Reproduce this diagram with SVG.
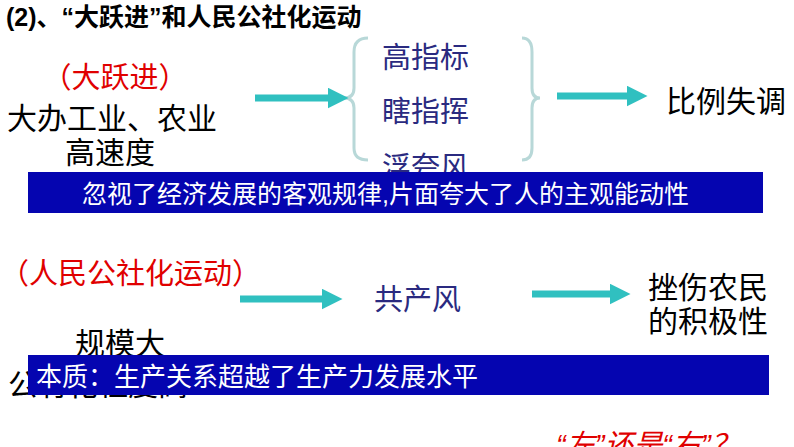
<svg xmlns="http://www.w3.org/2000/svg" width="794" height="447" viewBox="0 0 794 447">
<style>
text{font-family:"Liberation Sans","Noto Sans CJK SC",sans-serif}
.blk{fill:#000;font-size:30px}
.red{fill:#e00000;font-size:29px}
.nv{fill:#2a2a80;font-size:29px}
.wh{fill:#fff;font-size:25px}
.bar{fill:#0505b0}
.br{fill:none;stroke:#b8d8d8;stroke-width:3}
</style>
<defs>
<marker id="ah" markerWidth="3" markerHeight="3" refX="0.5" refY="1.5" orient="auto" markerUnits="strokeWidth" viewBox="0 0 3 3"><path d="M0,0L3,1.5L0,3z" fill="#30c0c0"/></marker>
</defs>
<text x="6" y="26" style="font-size:25px;font-weight:bold">(2)、“大跃进”和人民公社化运动</text>
<g id="n1"><text x="115" y="88" class="red" text-anchor="middle">（大跃进）</text>
<text x="7" y="129" class="blk">大办工业、农业</text>
<text x="110" y="163" class="blk" text-anchor="middle">高速度</text></g>
<g id="n2"><path class="br" d="M368,38 Q354,38 354,52 L354,88 Q354,98 344,98 Q354,98 354,108 L354,148 Q354,160 368,160"/>
<path class="br" d="M522,38 Q532,38 532,52 L532,88 Q532,98 540,98 Q532,98 532,108 L532,148 Q532,160 522,160"/>
<text x="382" y="68" class="nv">高指标</text>
<text x="382" y="122" class="nv">瞎指挥</text>
<text x="382" y="178" class="nv">浮夸风</text></g>
<g id="n3"><text x="666" y="112" class="blk">比例失调</text></g>
<g id="n4"><text x="0" y="284" class="red">（人民公社化运动）</text>
<text x="75" y="354" class="blk">规模大</text>
<text x="8" y="395" class="blk">公有化程度高</text></g>
<g id="n5"><text x="374" y="310" class="nv">共产风</text></g>
<g id="n6"><text x="648" y="298" class="blk">挫伤农民</text>
<text x="648" y="332" class="blk">的积极性</text></g>
<g id="bar1"><rect class="bar" x="28" y="172" width="735" height="41"/>
<text x="82" y="203" class="wh">忽视了经济发展的客观规律,片面夸大了人的主观能动性</text></g>
<g id="bar2"><rect class="bar" x="28" y="355" width="741" height="40"/>
<text x="36" y="386" class="wh" style="font-size:26px">本质：生产关系超越了生产力发展水平</text></g>
<g id="connectors" stroke="#30c0c0" stroke-width="7" marker-end="url(#ah)">
<line x1="255" y1="98" x2="331" y2="98"/>
<line x1="557" y1="96" x2="630" y2="96"/>
<line x1="240" y1="299" x2="325" y2="299"/>
<line x1="532" y1="294" x2="613" y2="294"/>
</g>
<text x="556" y="455" style="fill:#e00000;font-size:29px;font-style:italic">“左”还是“右”？</text>
</svg>
